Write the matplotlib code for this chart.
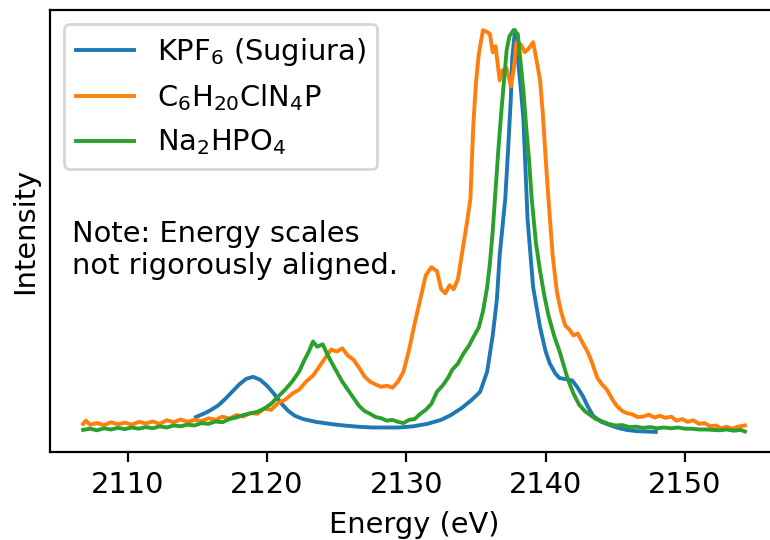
import matplotlib
matplotlib.use("Agg")
import matplotlib.pyplot as plt

# KPF6 (Sugiura)
kpf6_e = [2114.9, 2115.5, 2116.0, 2116.5, 2117.0, 2117.5, 2118.0, 2118.5, 2119.0, 2119.5,
          2120.0, 2120.5, 2121.0, 2121.5, 2122.0, 2122.6, 2123.5, 2124.5, 2125.5, 2126.5,
          2127.5, 2128.5, 2129.5, 2130.5, 2131.5, 2132.5, 2133.2, 2134.0, 2134.7, 2135.3,
          2135.8, 2136.2, 2136.5, 2136.7, 2137.1, 2137.3, 2137.5, 2137.6, 2137.8, 2138.0,
          2138.2, 2138.4, 2138.7, 2139.1, 2139.6, 2140.0, 2140.3, 2140.7, 2141.0, 2141.5,
          2141.9, 2142.3, 2142.7, 2143.0, 2143.4, 2144.0, 2144.6, 2145.2, 2145.8, 2146.5,
          2147.2, 2147.9]
kpf6_i = [0.037, 0.046, 0.055, 0.066, 0.082, 0.100, 0.118, 0.132, 0.137, 0.130,
          0.115, 0.095, 0.072, 0.053, 0.040, 0.032, 0.025, 0.020, 0.016, 0.013,
          0.011, 0.011, 0.011, 0.014, 0.020, 0.030, 0.042, 0.060, 0.080, 0.100,
          0.150, 0.240, 0.330, 0.440, 0.580, 0.700, 0.830, 0.930, 1.000, 0.930,
          0.860, 0.780, 0.530, 0.360, 0.260, 0.200, 0.170, 0.145, 0.134, 0.131,
          0.128, 0.110, 0.087, 0.065, 0.040, 0.025, 0.017, 0.010, 0.005, 0.002,
          0.001, 0.000]

# C6H20ClN4P
c6_e = [2106.8, 2107.0, 2107.3, 2107.8, 2108.3, 2108.8, 2109.3, 2109.8, 2110.3, 2110.8,
        2111.3, 2111.8, 2112.3, 2112.8, 2113.3, 2113.8, 2114.3, 2114.8, 2115.3, 2115.8,
        2116.3, 2116.8, 2117.3, 2117.8, 2118.3, 2118.8, 2119.3, 2119.8, 2120.3, 2120.8,
        2121.3, 2121.8, 2122.3, 2122.8, 2123.3, 2123.8, 2124.2, 2124.6, 2125.0, 2125.4,
        2125.8, 2126.2, 2126.6, 2127.0, 2127.4, 2127.8, 2128.2, 2128.6, 2129.0, 2129.4,
        2129.8, 2130.2, 2130.6, 2131.0, 2131.4, 2131.8, 2132.2, 2132.5, 2132.8, 2133.1,
        2133.4, 2133.7, 2134.0, 2134.3, 2134.6, 2134.8, 2135.0, 2135.2, 2135.5, 2135.8,
        2136.0, 2136.2, 2136.4, 2136.7, 2136.9, 2137.2, 2137.5, 2137.7, 2137.9, 2138.2,
        2138.5, 2138.8, 2139.1, 2139.4, 2139.6, 2139.8, 2140.0, 2140.2, 2140.5, 2140.8,
        2141.1, 2141.4, 2141.7, 2142.0, 2142.3, 2142.6, 2143.0, 2143.3, 2143.7, 2144.0,
        2144.4, 2144.8, 2145.1, 2145.5, 2145.8, 2146.2, 2146.6, 2147.0, 2147.4, 2147.8,
        2148.2, 2148.6, 2149.0, 2149.4, 2149.8, 2150.2, 2150.6, 2151.0, 2151.4, 2151.8,
        2152.2, 2152.6, 2153.0, 2153.4, 2153.8, 2154.3]
c6_i = [0.020, 0.028, 0.018, 0.022, 0.017, 0.024, 0.019, 0.023, 0.018, 0.025,
        0.021, 0.026, 0.020, 0.029, 0.024, 0.031, 0.025, 0.030, 0.027, 0.034,
        0.030, 0.038, 0.033, 0.042, 0.038, 0.047, 0.045, 0.058, 0.055, 0.072,
        0.080, 0.095, 0.105, 0.125, 0.140, 0.165, 0.185, 0.205, 0.200, 0.208,
        0.190, 0.180, 0.160, 0.138, 0.125, 0.118, 0.112, 0.115, 0.110, 0.125,
        0.150, 0.205, 0.270, 0.330, 0.390, 0.410, 0.400, 0.355, 0.345, 0.365,
        0.355, 0.380, 0.445, 0.510, 0.580, 0.760, 0.870, 0.940, 1.000, 0.995,
        0.990, 0.945, 0.960, 0.875, 0.900, 0.905, 0.860, 0.900, 0.970, 0.965,
        0.945, 0.955, 0.970, 0.915, 0.875, 0.790, 0.680, 0.580, 0.440, 0.350,
        0.300, 0.265, 0.255, 0.240, 0.245, 0.225, 0.200, 0.175, 0.135, 0.120,
        0.105, 0.080, 0.065, 0.052, 0.047, 0.044, 0.037, 0.038, 0.043, 0.036,
        0.040, 0.035, 0.038, 0.028, 0.032, 0.025, 0.029, 0.020, 0.022, 0.014,
        0.016, 0.009, 0.013, 0.008, 0.013, 0.016]

# Na2HPO4
na_e = [2106.8, 2107.3, 2107.8, 2108.3, 2108.8, 2109.3, 2109.8, 2110.3, 2110.8, 2111.3,
        2111.8, 2112.3, 2112.8, 2113.3, 2113.8, 2114.3, 2114.8, 2115.3, 2115.8, 2116.3,
        2116.8, 2117.3, 2117.8, 2118.3, 2118.8, 2119.3, 2119.8, 2120.3, 2120.8, 2121.3,
        2121.8, 2122.3, 2122.7, 2123.0, 2123.3, 2123.6, 2124.0, 2124.3, 2124.6, 2125.0,
        2125.4, 2125.8, 2126.2, 2126.6, 2127.0, 2127.4, 2127.8, 2128.2, 2128.6, 2129.0,
        2129.4, 2129.8, 2130.2, 2130.6, 2131.0, 2131.4, 2131.8, 2132.2, 2132.6, 2133.0,
        2133.3, 2133.7, 2134.1, 2134.5, 2134.8, 2135.2, 2135.5, 2135.8, 2136.0, 2136.2,
        2136.4, 2136.6, 2136.8, 2137.0, 2137.2, 2137.4, 2137.7, 2138.0, 2138.2, 2138.4,
        2138.6, 2138.8, 2139.0, 2139.3, 2139.6, 2139.9, 2140.2, 2140.6, 2141.0, 2141.3,
        2141.6, 2142.0, 2142.4, 2142.8, 2143.2, 2143.6, 2144.0, 2144.5, 2145.0, 2145.5,
        2146.0, 2146.5, 2147.0, 2147.5, 2148.0, 2148.5, 2149.0, 2149.5, 2150.0, 2150.5,
        2151.0, 2151.5, 2152.0, 2152.5, 2153.0, 2153.5, 2154.0, 2154.3]
na_i = [0.005, 0.008, 0.004, 0.009, 0.006, 0.010, 0.007, 0.011, 0.008, 0.012,
        0.009, 0.014, 0.011, 0.016, 0.014, 0.018, 0.016, 0.022, 0.020, 0.026,
        0.024, 0.032, 0.036, 0.042, 0.046, 0.050, 0.058, 0.070, 0.088, 0.105,
        0.125, 0.150, 0.180, 0.200, 0.225, 0.212, 0.218, 0.195, 0.175, 0.150,
        0.125, 0.105, 0.085, 0.065, 0.052, 0.045, 0.037, 0.034, 0.028, 0.030,
        0.025, 0.022, 0.030, 0.032, 0.045, 0.055, 0.070, 0.100, 0.115, 0.135,
        0.155, 0.170, 0.195, 0.215, 0.235, 0.260, 0.300, 0.360, 0.420, 0.500,
        0.600, 0.700, 0.790, 0.870, 0.950, 0.985, 1.000, 0.990, 0.920, 0.850,
        0.760, 0.680, 0.580, 0.470, 0.400, 0.340, 0.290, 0.240, 0.200, 0.165,
        0.130, 0.095, 0.068, 0.052, 0.042, 0.032, 0.027, 0.020, 0.016, 0.017,
        0.012, 0.013, 0.010, 0.012, 0.009, 0.011, 0.009, 0.011, 0.008, 0.008,
        0.006, 0.006, 0.005, 0.004, 0.006, 0.003, 0.005, 0.001]

labels = ["KPF$_6$ (Sugiura)", "C$_6$H$_{20}$ClN$_4$P", "Na$_2$HPO$_4$"]
note = "Note: Energy scales\nnot rigorously aligned."
xticks = [2110, 2120, 2130, 2140, 2150]

plt.rcParams["font.size"] = 10.4
fig = plt.figure(figsize=(3.85, 2.7), dpi=200)
ax = fig.add_axes([50 / 770, 88 / 540, 728 / 770, 442 / 540])
ax.plot(kpf6_e, kpf6_i, label=labels[0], lw=1.4)
ax.plot(c6_e, c6_i, label=labels[1], lw=1.4)
ax.plot(na_e, na_i, label=labels[2], lw=1.4)
ax.set_xticks(xticks)
ax.set_yticks([])
ax.set_xlabel("Energy (eV)")
ax.set_ylabel("Intensity")
ax.legend(loc="upper left")
ax.text(0.030, 0.457, note, transform=ax.transAxes, ha="left", va="center")
fig.savefig("out.png", dpi=200)
